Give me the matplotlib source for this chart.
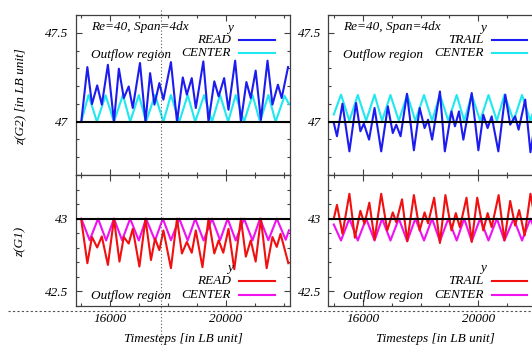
import matplotlib
matplotlib.use("Agg")
import matplotlib.pyplot as plt
from matplotlib import font_manager
from matplotlib.lines import Line2D
from matplotlib.ticker import FixedLocator, MultipleLocator

# --- data (timestep, z) ---
# left column: READ probe
read_top_t = [15000, 15210, 15370, 15550, 15710, 15920, 16130, 16300, 16470, 16640,
              16780, 17030, 17220, 17380, 17530, 17700, 17840, 18100, 18310, 18510,
              18650, 18820, 18960, 19220, 19400, 19600, 19750, 19940, 20090, 20320,
              20520, 20710, 20860, 21030, 21210, 21440, 21610, 21800, 21930, 22150]
read_top_z = [47.0, 47.307, 47.099, 47.204, 47.096, 47.320, 47.0, 47.298, 47.133, 47.198,
              47.077, 47.330, 47.0, 47.273, 47.096, 47.217, 47.124, 47.335, 47.0, 47.249,
              47.152, 47.245, 47.077, 47.339, 47.0, 47.227, 47.142, 47.245, 47.067, 47.343,
              47.0, 47.223, 47.133, 47.287, 47.01, 47.343, 47.096, 47.208, 47.133, 47.307]

center_top_left_t = [15000, 15250, 15540, 15840, 16130, 16440, 16690, 16990, 17240, 17550,
                     17840, 18100, 18390, 18680, 18940, 19250, 19520, 19800, 20080, 20340,
                     20630, 20920, 21180, 21470, 21720, 22030, 22180]
center_top_left_z = [47.0, 47.15, 47.0, 47.148, 47.0, 47.15, 47.0, 47.15, 47.0, 47.15,
                     47.0, 47.15, 47.0, 47.15, 47.0, 47.15, 47.0, 47.15, 47.0, 47.15,
                     47.0, 47.15, 47.0, 47.15, 47.0, 47.145, 47.10]

read_bot_t = [15000, 15210, 15370, 15550, 15710, 15920, 16130, 16320, 16470, 16640,
              16780, 17010, 17220, 17410, 17550, 17700, 17840, 18100, 18310, 18480,
              18650, 18820, 18960, 19190, 19400, 19600, 19750, 19910, 20090, 20290,
              20520, 20690, 20860, 21030, 21210, 21410, 21610, 21760, 21890, 22160]
read_bot_z = [42.991, 42.694, 42.874, 42.802, 42.878, 42.682, 43.0, 42.705, 42.874, 42.829,
              42.930, 42.671, 43.0, 42.716, 42.863, 42.784, 42.919, 42.660, 43.0, 42.761,
              42.840, 42.766, 42.919, 42.667, 43.0, 42.761, 42.851, 42.766, 42.930, 42.653,
              43.0, 42.739, 42.851, 42.705, 43.0, 42.660, 42.874, 42.806, 42.896, 42.694]

center_bot_left_t = [15000, 15290, 15580, 15860, 16130, 16410, 16690, 16990, 17240, 17550,
                     17820, 18100, 18390, 18680, 18940, 19230, 19520, 19800, 20060, 20340,
                     20630, 20920, 21180, 21470, 21760, 22070, 22180]
center_bot_left_z = [43.0, 42.852, 43.0, 42.85, 43.0, 42.852, 43.0, 42.85, 43.0, 42.85,
                     43.0, 42.852, 43.0, 42.85, 43.0, 42.85, 43.0, 42.852, 43.0, 42.85,
                     43.0, 42.85, 43.0, 42.852, 43.0, 42.855, 42.92]

# right column: TRAIL probe
trail_top_t = [15000, 15110, 15300, 15540, 15770, 15920, 16040, 16220, 16410, 16640,
               16870, 17040, 17160, 17310, 17530, 17770, 17970, 18140, 18260, 18400,
               18670, 18840, 19070, 19190, 19330, 19480, 19770, 20000, 20170, 20320,
               20460, 20690, 20930, 21100, 21270, 21390, 21620, 21800, 22030, 22200]
trail_top_z = [46.993, 46.918, 47.101, 46.833, 47.105, 46.946, 46.989, 46.899, 47.077, 46.833,
               47.086, 46.936, 46.983, 46.918, 47.157, 46.839, 47.077, 46.964, 47.011, 46.899,
               47.170, 46.833, 47.058, 46.974, 47.058, 46.899, 47.161, 46.839, 47.039, 46.964,
               47.030, 46.833, 47.152, 46.983, 47.030, 46.955, 47.124, 46.828, 47.067, 46.955]

center_right_t = [15000, 15250, 15540, 15830, 16120, 16410, 16670, 16960, 17250, 17540,
                  17820, 18120, 18400, 18670, 18960, 19250, 19510, 19770, 20060, 20350,
                  20640, 20900, 21220, 21510, 21800, 22080, 22200]
center_top_right_z = [47.04, 47.152, 47.005, 47.15, 47.005, 47.152, 47.005, 47.15, 47.005, 47.152,
                      47.005, 47.15, 47.005, 47.152, 47.005, 47.15, 47.005, 47.152, 47.005, 47.15,
                      47.005, 47.152, 47.005, 47.15, 47.005, 47.15, 47.08]
center_bot_right_z = [42.96, 42.85, 43.0, 42.85, 43.0, 42.85, 43.0, 42.85, 43.0, 42.845,
                      43.0, 42.85, 43.0, 42.845, 43.0, 42.85, 43.0, 42.845, 43.0, 42.85,
                      43.0, 42.85, 43.0, 42.85, 43.0, 42.86, 42.92]

trail_bot_t = [15000, 15110, 15300, 15540, 15730, 15920, 16060, 16230, 16410, 16640,
               16850, 17040, 17160, 17360, 17540, 17770, 17970, 18140, 18260, 18470,
               18670, 18860, 19070, 19220, 19360, 19590, 19770, 19960, 20170, 20320,
               20460, 20700, 20900, 21100, 21270, 21410, 21600, 21800, 22030, 22200]
trail_bot_z = [43.0, 43.095, 42.896, 43.171, 42.869, 43.054, 42.964, 43.110, 42.856, 43.171,
               42.919, 43.043, 42.975, 43.133, 42.845, 43.162, 42.919, 43.043, 42.968, 43.144,
               42.833, 43.162, 42.919, 43.038, 42.941, 43.144, 42.840, 43.144, 42.919, 43.038,
               42.941, 43.162, 42.851, 43.122, 42.953, 43.059, 42.885, 43.171, 42.919, 43.01]

REF_TOP = 47.0
REF_BOT = 43.0
X_RANGE = (14800, 22200)
TOP_RANGE = (46.7, 47.6)
BOT_RANGE = (42.4, 43.3)

# gnuplot postscript look: Times-Italic; take an installed italic serif file if there is one
italic_file = None
for want in ["Liberation Serif", "DejaVu Serif"]:
    for f in font_manager.fontManager.ttflist:
        if f.name == want and f.style == "italic" and f.weight in (400, "normal", "regular"):
            italic_file = f.fname
            break
    if italic_file:
        break

if italic_file:
    FP = font_manager.FontProperties(fname=italic_file, size=9.5)
else:
    FP = font_manager.FontProperties(family="serif", style="italic", size=9.5)
FONT = dict(fontproperties=FP)
FRAME = "#404040"

W, H = 532, 346
fig = plt.figure(figsize=(W / 100, H / 100), dpi=100)


def px_box(left, top, right, bottom):
    """Convert a pixel box to figure fractions."""
    return [left / W, 1 - bottom / H, (right - left) / W, (bottom - top) / H]


def style_axes(ax, ylim, yticks, show_x):
    ax.set_xlim(*X_RANGE)
    ax.set_ylim(*ylim)
    ax.xaxis.set_major_locator(FixedLocator([16000, 20000]))
    ax.xaxis.set_minor_locator(MultipleLocator(1000))
    ax.yaxis.set_major_locator(FixedLocator(yticks))
    ax.yaxis.set_minor_locator(MultipleLocator(0.1))
    ax.yaxis.set_major_formatter(plt.FuncFormatter(lambda v, p: f"{v:g}"))
    ax.tick_params(which="both", direction="in", top=True, right=True,
                   color=FRAME, width=0.8, pad=5)
    ax.tick_params(which="major", length=4)
    ax.tick_params(which="minor", length=2.5)
    if not show_x:
        ax.tick_params(axis="x", labelbottom=False)
    for lab in ax.get_xticklabels() + ax.get_yticklabels():
        lab.set_fontproperties(FP)
    for sp in ax.spines.values():
        sp.set_color(FRAME)
        sp.set_linewidth(0.9)


def key(ax, y_title, y1, y2, lab1, col1, lab2, col2):
    """gnuplot style key: labels right-aligned, sample line to the right."""
    ax.text(0.737, y_title, "y", ha="right", va="center", transform=ax.transAxes, **FONT)
    for yy, lab, col in [(y1, lab1, col1), (y2, lab2, col2)]:
        ax.text(0.727, yy, lab, ha="right", va="center", transform=ax.transAxes, **FONT)
        ax.add_line(Line2D([0.765, 0.93], [yy, yy], color=col, lw=1.5,
                           transform=ax.transAxes))


panels = {
    "lt": px_box(75.5, 15, 289.5, 175),
    "lb": px_box(75.5, 175, 289.5, 306),
    "rt": px_box(328, 15, 542, 175),
    "rb": px_box(328, 175, 542, 306),
}

blue, cyan, red, magenta = "#1c1cf0", "#1fe8f0", "#f01010", "#f010f0"

# top-left: READ / CENTER
ax = fig.add_axes(panels["lt"])
ax.plot(center_top_left_t, center_top_left_z, color=cyan, lw=1.5)
ax.plot(read_top_t, read_top_z, color=blue, lw=1.5)
ax.axhline(REF_TOP, color="black", lw=1.5, zorder=5)
style_axes(ax, TOP_RANGE, [47.0, 47.5], False)
ax.text(0.072, 0.925, "Re=40, Span=4dx", ha="left", va="center", transform=ax.transAxes, **FONT)
ax.text(0.072, 0.75, "Outflow region", ha="left", va="center", transform=ax.transAxes, **FONT)
key(ax, 0.92, 0.844, 0.762, "READ", blue, "CENTER", cyan)

# bottom-left
ax = fig.add_axes(panels["lb"])
ax.plot(center_bot_left_t, center_bot_left_z, color=magenta, lw=1.5)
ax.plot(read_bot_t, read_bot_z, color=red, lw=1.5)
ax.axhline(REF_BOT, color="black", lw=1.5, zorder=5)
style_axes(ax, BOT_RANGE, [42.5, 43.0], True)
ax.text(0.072, 0.075, "Outflow region", ha="left", va="center", transform=ax.transAxes, **FONT)
key(ax, 0.29, 0.19, 0.082, "READ", red, "CENTER", magenta)

# top-right: TRAIL / CENTER
ax = fig.add_axes(panels["rt"])
ax.plot(center_right_t, center_top_right_z, color=cyan, lw=1.5)
ax.plot(trail_top_t, trail_top_z, color=blue, lw=1.5)
ax.axhline(REF_TOP, color="black", lw=1.5, zorder=5)
style_axes(ax, TOP_RANGE, [47.0, 47.5], False)
ax.text(0.072, 0.925, "Re=40, Span=4dx", ha="left", va="center", transform=ax.transAxes, **FONT)
ax.text(0.072, 0.75, "Outflow region", ha="left", va="center", transform=ax.transAxes, **FONT)
key(ax, 0.92, 0.844, 0.762, "TRAIL", blue, "CENTER", cyan)

# bottom-right
ax = fig.add_axes(panels["rb"])
ax.plot(center_right_t, center_bot_right_z, color=magenta, lw=1.5)
ax.plot(trail_bot_t, trail_bot_z, color=red, lw=1.5)
ax.axhline(REF_BOT, color="black", lw=1.5, zorder=5)
style_axes(ax, BOT_RANGE, [42.5, 43.0], True)
ax.text(0.072, 0.075, "Outflow region", ha="left", va="center", transform=ax.transAxes, **FONT)
key(ax, 0.29, 0.19, 0.082, "TRAIL", red, "CENTER", magenta)

# axis titles
fig.text(20 / W, 1 - 97 / H, "z(G2) [in LB unit]", rotation=90, ha="center", va="center", **FONT)
fig.text(20 / W, 1 - 242 / H, "z(G1)", rotation=90, ha="center", va="center", **FONT)
fig.text(183 / W, 1 - 339 / H, "Timesteps [in LB unit]", ha="center", va="center", **FONT)
fig.text(435 / W, 1 - 339 / H, "Timesteps [in LB unit]", ha="center", va="center", **FONT)

# dotted crop guides
fig.add_artist(Line2D([161 / W, 161 / W], [1 - 10 / H, 0], transform=fig.transFigure,
                      color="#555555", lw=0.8, ls=(0, (1, 2))))
fig.add_artist(Line2D([8 / W, 1], [1 - 311 / H, 1 - 311 / H], transform=fig.transFigure,
                      color="#555555", lw=0.8, ls=(0, (2, 2))))

fig.savefig("out.png", dpi=100)
